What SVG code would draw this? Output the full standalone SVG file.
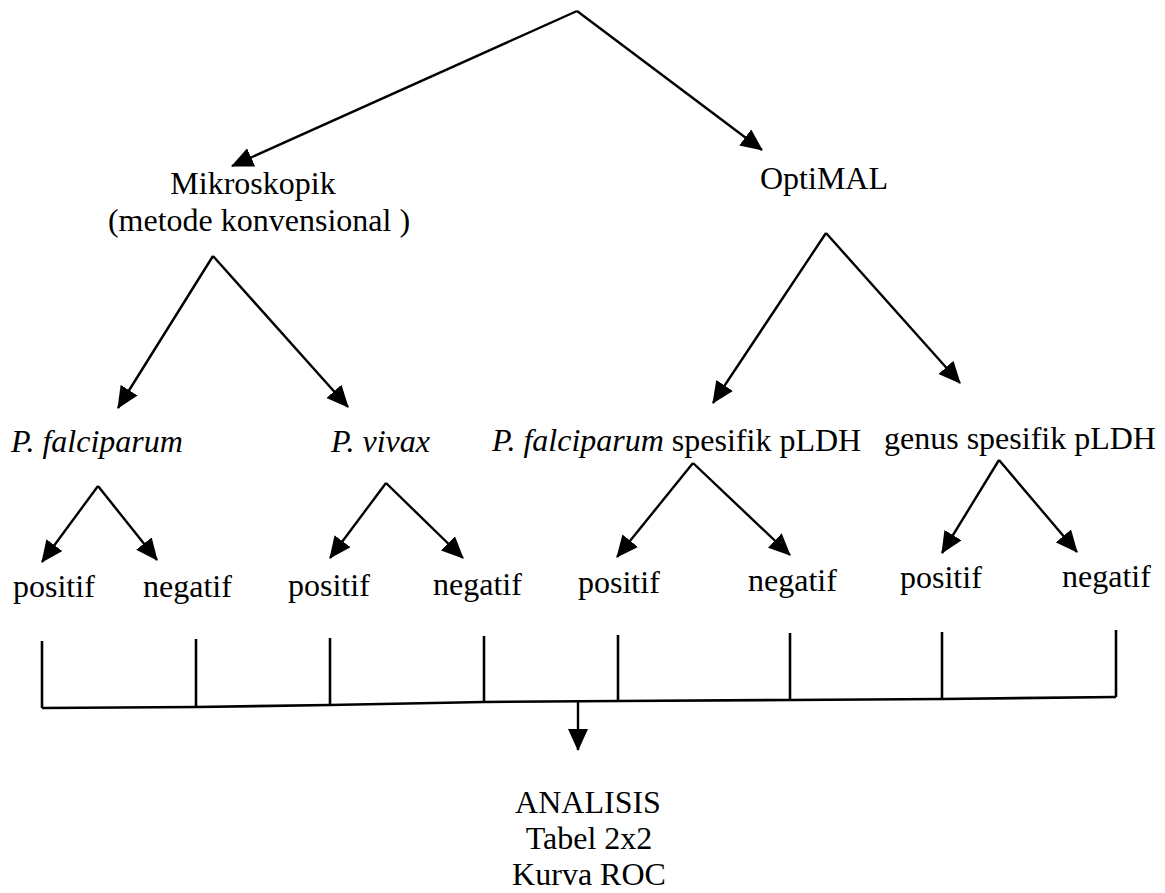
<svg xmlns="http://www.w3.org/2000/svg" width="1165" height="893" viewBox="0 0 1165 893">
<style>
text{font-family:"Liberation Serif","Times New Roman",serif;font-size:32px;fill:#000}
.i{font-style:italic}
.c{text-anchor:middle}
.e{stroke:#000;stroke-width:2.4;fill:none;marker-end:url(#ah)}
.b{stroke:#000;stroke-width:2.6;fill:none}
</style>
<defs>
<marker id="ah" viewBox="0 0 22 20" refX="21" refY="10" markerWidth="22" markerHeight="20" markerUnits="userSpaceOnUse" orient="auto">
<path d="M0,0 L22,10 L0,20 z" fill="#000"/>
</marker>
</defs>
<rect width="1165" height="893" fill="#fff"/>
<g id="connectors">
<line class="e" x1="577" y1="11" x2="232" y2="166"/>
<line class="e" x1="577" y1="11" x2="762" y2="150"/>
<line class="e" x1="213" y1="256" x2="118" y2="408"/>
<line class="e" x1="213" y1="256" x2="348" y2="407"/>
<line class="e" x1="826" y1="233" x2="713" y2="403"/>
<line class="e" x1="826" y1="233" x2="960" y2="383"/>
<line class="e" x1="98" y1="486" x2="42" y2="562"/>
<line class="e" x1="98" y1="486" x2="157" y2="560"/>
<line class="e" x1="386" y1="483" x2="330" y2="558"/>
<line class="e" x1="386" y1="483" x2="463" y2="558"/>
<line class="e" x1="693" y1="463" x2="617" y2="557"/>
<line class="e" x1="693" y1="463" x2="790" y2="555"/>
<line class="e" x1="999" y1="460" x2="942" y2="553"/>
<line class="e" x1="999" y1="460" x2="1077" y2="552"/>
<g id="bracket">
<line class="b" x1="42" y1="641" x2="42" y2="708"/>
<line class="b" x1="196" y1="639" x2="196" y2="707"/>
<line class="b" x1="330" y1="638" x2="330" y2="705"/>
<line class="b" x1="484" y1="636" x2="484" y2="702"/>
<line class="b" x1="618" y1="635" x2="618" y2="701"/>
<line class="b" x1="790" y1="633" x2="790" y2="700"/>
<line class="b" x1="942" y1="632" x2="942" y2="699"/>
<line class="b" x1="1116" y1="630" x2="1116" y2="697"/>
<polyline class="b" points="42,708 196,707 330,705 484,702 618,701 790,700 942,699 1116,697"/>
</g>
<line class="e" x1="578" y1="702" x2="578" y2="750"/>
</g>
<g id="mikroskopik">
<text class="c" x="253" y="194">Mikroskopik</text>
<text class="c" x="259" y="231">(metode konvensional )</text>
</g>
<g id="optimal"><text x="760" y="189">OptiMAL</text></g>
<g id="pfalciparum"><text class="i" x="11" y="452">P. falciparum</text></g>
<g id="pvivax"><text class="i" x="331" y="452">P. vivax</text></g>
<g id="pf-pldh"><text x="492" y="451"><tspan class="i">P. falciparum</tspan> spesifik pLDH</text></g>
<g id="genus-pldh"><text x="884" y="449">genus spesifik pLDH</text></g>
<g id="pos1"><text x="13" y="597">positif</text></g>
<g id="neg1"><text x="143" y="597">negatif</text></g>
<g id="pos2"><text x="288" y="596">positif</text></g>
<g id="neg2"><text x="433" y="595">negatif</text></g>
<g id="pos3"><text x="578" y="593">positif</text></g>
<g id="neg3"><text x="748" y="591">negatif</text></g>
<g id="pos4"><text x="900" y="588">positif</text></g>
<g id="neg4"><text x="1062" y="587">negatif</text></g>
<g id="analisis">
<text class="c" x="588" y="813">ANALISIS</text>
<text class="c" x="589" y="849">Tabel 2x2</text>
<text class="c" x="589" y="885">Kurva ROC</text>
</g>
</svg>
